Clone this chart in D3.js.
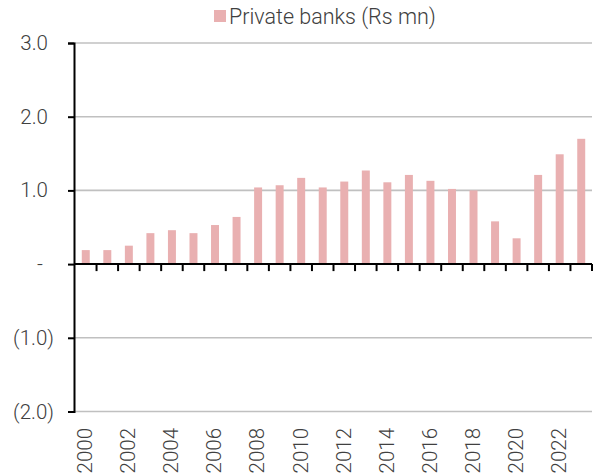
<!DOCTYPE html>
<html>
<head>
<meta charset="utf-8">
<script src="https://cdn.jsdelivr.net/npm/d3@7/dist/d3.min.js"></script>
<style>
  html, body { margin: 0; padding: 0; background: #fff; }
  svg { display: block; font-family: Roboto, "Noto Sans", sans-serif; font-weight: 300; }
</style>
</head>
<body>
<svg id="chart" width="595" height="474"></svg>
<script>
// Private banks, yearly values (Rs mn)
const years = [2000, 2001, 2002, 2003, 2004, 2005, 2006, 2007, 2008, 2009, 2010, 2011,
               2012, 2013, 2014, 2015, 2016, 2017, 2018, 2019, 2020, 2021, 2022, 2023];
const privateBanks = [0.19, 0.19, 0.25, 0.42, 0.46, 0.42, 0.53, 0.64, 1.04, 1.07, 1.17, 1.04,
                      1.12, 1.27, 1.11, 1.21, 1.13, 1.02, 1.00, 0.58, 0.35, 1.21, 1.49, 1.70];
const yTicks = [3, 2, 1, 0, -1, -2];
const seriesName = "Private banks (Rs mn)";

const svg = d3.select("#chart");
const plotLeft = 74, plotRight = 592, plotTop = 43, plotBottom = 411.5;
const barColor = "#e9b0b1";
const textColor = "#404040";
const fontSize = 20.5;

const x = d3.scaleBand().domain(years).range([plotLeft + 1, plotRight]).paddingInner(0.63).paddingOuter(0.315);
const xb = d3.scaleBand().domain(years).range([plotLeft + 1, plotRight]);
const y = d3.scaleLinear().domain([-2, 3]).range([plotBottom, plotTop]);

// accounting-style tick labels
const fmt = v => v === 0 ? "-" : v < 0 ? "(" + d3.format(".1f")(-v) + ")" : d3.format(".1f")(v);

// gridlines
svg.append("g").selectAll("line").data(yTicks).join("line")
  .attr("x1", plotLeft).attr("x2", plotRight)
  .attr("y1", d => y(d)).attr("y2", d => y(d))
  .attr("stroke", "#c0c0c0").attr("stroke-width", 1.6);

// bars
svg.append("g").selectAll("rect").data(years).join("rect")
  .attr("x", d => x(d))
  .attr("width", x.bandwidth())
  .attr("y", (d, i) => Math.min(y(privateBanks[i]), y(0)))
  .attr("height", (d, i) => Math.abs(y(privateBanks[i]) - y(0)))
  .attr("fill", barColor);

// y axis
const yAxis = svg.append("g").attr("transform", `translate(${plotLeft},0)`)
  .call(d3.axisLeft(y).tickValues(yTicks).tickFormat(fmt).tickSize(6).tickPadding(20));
yAxis.select(".domain").attr("stroke", "#000").attr("stroke-width", 2);
yAxis.selectAll(".tick line").attr("stroke", "#000").attr("stroke-width", 2);
yAxis.selectAll(".tick text")
  .attr("font-size", fontSize).attr("font-family", "Roboto").attr("font-weight", 300)
  .attr("fill", textColor)
  .attr("x", d => d < 0 ? -20 : d === 0 ? -31 : -26);

// x axis on the zero line, ticks at category boundaries
const zeroY = y(0);
svg.append("line").attr("x1", plotLeft).attr("x2", plotRight)
  .attr("y1", zeroY).attr("y2", zeroY).attr("stroke", "#000").attr("stroke-width", 2);
const bounds = years.map(d => xb(d) + xb.bandwidth()).filter(v => v > plotLeft + 2);
svg.append("g").selectAll("line").data(bounds).join("line")
  .attr("x1", d => d).attr("x2", d => d)
  .attr("y1", zeroY).attr("y2", zeroY + 7)
  .attr("stroke", "#000").attr("stroke-width", 2);

// x labels, every other year, rotated
svg.append("g").selectAll("text").data(years.filter((d, i) => i % 2 === 0)).join("text")
  .attr("transform", d => `translate(${xb(d) + xb.bandwidth() / 2 - 1},428) rotate(-90)`)
  .attr("text-anchor", "end")
  .attr("dy", "0.36em")
  .attr("font-size", fontSize).attr("fill", textColor)
  .text(d => d);

// legend
const lg = svg.append("g");
lg.append("rect").attr("x", 214).attr("y", 10).attr("width", 12).attr("height", 12).attr("fill", barColor);
lg.append("text").attr("x", 229).attr("y", 23.5)
  .attr("font-size", 21.5).attr("fill", textColor).text(seriesName);
</script>
</body>
</html>
